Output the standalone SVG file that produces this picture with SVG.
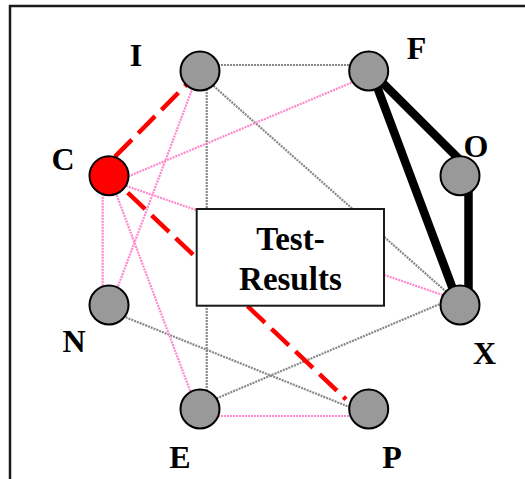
<svg xmlns="http://www.w3.org/2000/svg" width="525" height="479" viewBox="0 0 525 479">
<style>
.lbl{font-family:"Liberation Serif","Times New Roman",serif;font-weight:bold;font-size:32px;fill:#000;text-anchor:middle}
.box{font-family:"Liberation Serif","Times New Roman",serif;font-weight:bold;font-size:33px;fill:#000;text-anchor:middle}
.n{fill:#999999;stroke:#000;stroke-width:2}
.gray{stroke:#888888;stroke-width:2.2;stroke-dasharray:2 1;fill:none}
.pink{stroke:#ff88cc;stroke-width:2.2;stroke-dasharray:2 1;fill:none}
.red{stroke:#ff0000;stroke-width:4.5;stroke-dasharray:24 9;fill:none}
.thick{stroke:#000;stroke-width:8.5;fill:none}
</style>
<rect x="0" y="0" width="525" height="479" fill="#fff"/>
<path d="M10,479 V6 H525" fill="none" stroke="#1a1a1a" stroke-width="2.5"/>
<g id="connectors">
<line class="gray" x1="200" y1="65" x2="368.7" y2="65"/>
<line class="gray" x1="206.7" y1="71" x2="206.7" y2="409"/>
<line class="gray" x1="200" y1="74" x2="460" y2="304"/>
<line class="gray" x1="109" y1="310.6" x2="368.7" y2="414.8"/>
<line class="gray" x1="200" y1="405.4" x2="460" y2="295.5"/>
<line class="pink" x1="109" y1="184.5" x2="368.7" y2="75.4"/>
<line class="pink" x1="102.7" y1="175.7" x2="102.7" y2="305"/>
<line class="pink" x1="109.3" y1="175.7" x2="197" y2="409"/>
<line class="pink" x1="199" y1="71" x2="111" y2="305"/>
<line class="pink" x1="109" y1="180" x2="460" y2="301"/>
<line class="pink" x1="200" y1="416" x2="368.7" y2="416"/>
<line class="red" x1="115" y1="156.7" x2="190" y2="81"/>
<line class="red" x1="127.7" y1="192.7" x2="346" y2="399.3"/>
<line class="thick" x1="368.7" y1="69" x2="460" y2="160"/>
<line class="thick" x1="370" y1="68" x2="457" y2="300"/>
<line class="thick" x1="468.5" y1="175.7" x2="468.5" y2="305"/>
</g>
<g id="test-results">
<rect x="196.7" y="209" width="187.3" height="96.7" fill="#fff" stroke="#1a1a1a" stroke-width="2"/>
<text class="box" x="290.4" y="250">Test-</text>
<text class="box" x="290.4" y="290">Results</text>
</g>
<g id="node-I"><circle class="n" cx="200" cy="71" r="19.5"/><text class="lbl" x="136" y="66">I</text></g>
<g id="node-F"><circle class="n" cx="368.7" cy="71" r="19.5"/><text class="lbl" x="416.5" y="59">F</text></g>
<g id="node-C"><circle cx="109" cy="175.7" r="19.5" fill="#ff0000" stroke="#000" stroke-width="2"/><text class="lbl" x="63" y="170">C</text></g>
<g id="node-O"><circle class="n" cx="460" cy="175.7" r="19.5"/><text class="lbl" x="476" y="157">O</text></g>
<g id="node-N"><circle class="n" cx="109" cy="305" r="19.5"/><text class="lbl" x="74" y="352">N</text></g>
<g id="node-X"><circle class="n" cx="460" cy="305" r="19.5"/><text class="lbl" x="484.5" y="364">X</text></g>
<g id="node-E"><circle class="n" cx="200" cy="409" r="19.5"/><text class="lbl" x="180" y="468">E</text></g>
<g id="node-P"><circle class="n" cx="368.7" cy="409" r="19.5"/><text class="lbl" x="392" y="468">P</text></g>
</svg>
